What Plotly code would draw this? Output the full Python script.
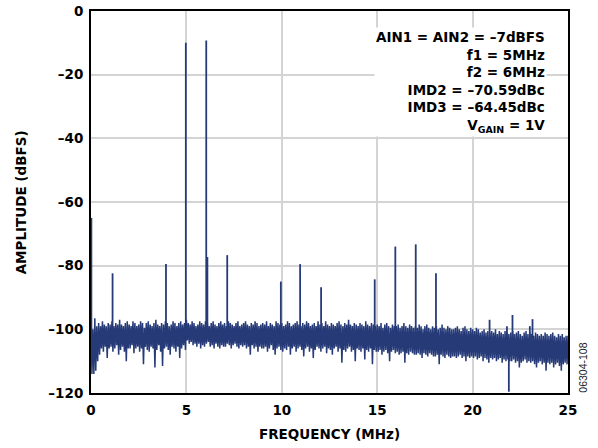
import plotly.graph_objects as go

# Noise-floor envelope sampled every 0.1 MHz from 0 to 25 MHz (dBFS)
freq_start = 0.0
freq_step = 0.1
noise_top = [
    -93, -100, -96.5, -99, -98, -99, -97.5, -98.5, -99, -98,
    -98.5, -97.5, -99, -98, -98.5, -97, -98.5, -99, -98, -97.5,
    -98.5, -99, -97.5, -98, -99, -98.5, -97.5, -98, -99.5, -98,
    -97.5, -98.5, -99, -98, -97, -98.5, -99, -98, -98.5, -97.5,
    -98, -99, -98.5, -97.5, -98, -99, -98, -97.5, -98.5, -98,
    -97, -98, -98.5, -97.5, -98, -99, -98.5, -97.5, -98, -98.5,
    -97.5, -98, -99, -98, -97.5, -98.5, -99, -98, -97.5, -98.5,
    -98, -99, -97.5, -98, -98.5, -99, -98, -97.5, -99, -98.5,
    -98, -97.5, -98.5, -99, -98, -98.5, -97.5, -98, -99, -98.5,
    -98, -98.5, -97.5, -99, -98, -98.5, -99, -97.5, -98, -98.5,
    -98, -99, -98.5, -97.5, -98, -99, -98.5, -98, -97.5, -98.5,
    -99, -98, -98.5, -97.5, -98, -99, -98.5, -98, -99, -97.5,
    -98.5, -98, -99, -97.5, -98.5, -99, -98, -98.5, -99, -98,
    -97.5, -98.5, -99, -98, -98.5, -97, -98.5, -99, -98, -98.5,
    -99, -98, -98.5, -99, -97.5, -98.5, -99, -98, -98.5, -99,
    -98.5, -99, -98, -99.5, -98.5, -98, -99, -99.5, -98.5, -99,
    -99, -98.5, -99.5, -99, -98, -99, -99.5, -98.5, -99, -99.5,
    -99, -99.5, -98.5, -99, -100, -99, -98.5, -99.5, -100, -99,
    -99.5, -99, -100, -99.5, -98.5, -99.5, -100, -99, -99.5, -100,
    -100, -99.5, -99, -100, -100.5, -99.5, -99, -100, -100.5, -99.5,
    -100, -100.5, -99.5, -100, -101, -100.5, -100, -101, -100.5, -101,
    -100.5, -101, -100, -101.5, -100.5, -101, -101.5, -100.5, -101, -101.5,
    -101, -100.5, -101.5, -101, -100.5, -101.5, -102, -101, -100.5, -101.5,
    -101, -101.5, -102, -101, -101.5, -102, -101.5, -102, -101, -101.5,
    -102, -101.5, -101, -102, -102.5, -101.5, -102, -101.5, -102.5, -102,
    -102,
]
noise_bottom = [
    -114, -114, -113, -110, -108, -106, -107, -105.5, -109, -106,
    -105.5, -107, -106, -105, -108, -106.5, -105.5, -107, -110, -106,
    -106, -105, -107.5, -106, -105.5, -107, -106, -111, -105.5, -106.5,
    -107, -105.5, -106, -112, -106.5, -105, -107, -111.5, -106, -105.5,
    -106.5, -108, -105.5, -106, -107, -105.5, -109, -106, -105, -106.5,
    -103.5, -104.5, -104, -105, -104.5, -105.5, -104.5, -106, -105, -105.5,
    -104.5, -104, -105.5, -105, -106, -104.5, -105.5, -106, -105, -105.5,
    -105.5, -104.5, -105, -106, -105, -104.5, -105.5, -106, -105, -105.5,
    -105, -106, -105.5, -108, -105, -106, -105.5, -107, -105.5, -106,
    -106, -105.5, -107, -106, -105, -106.5, -108, -106, -105.5, -106.5,
    -107, -106, -106.5, -105.5, -108, -106, -105.5, -107, -106, -105.5,
    -106.5, -108.5, -106, -105.5, -107, -106, -109, -106.5, -105.5, -106,
    -107, -106, -105.5, -107.5, -106, -106.5, -108, -106, -105.5, -107,
    -106, -110.5, -106.5, -107, -106, -105.5, -107, -106.5, -110, -106,
    -106.5, -107, -106, -109.5, -106.5, -107, -106, -111, -106.5, -107,
    -107, -106.5, -108, -107, -106.5, -107.5, -110, -107, -106.5, -107.5,
    -107, -108, -107.5, -107, -110.5, -107.5, -108, -107, -107.5, -108,
    -108, -107.5, -108, -109, -107.5, -108, -108.5, -107.5, -108, -108.5,
    -108.5, -108, -111, -108, -108.5, -109, -108, -108.5, -109, -108.5,
    -108.5, -109, -108.5, -108, -109, -108.5, -110, -108.5, -109, -108.5,
    -109, -108.5, -109.5, -109, -108.5, -110, -109, -109.5, -110.5, -109,
    -109.5, -109, -110, -109.5, -109, -110.5, -109.5, -110, -109.5, -110,
    -110, -109.5, -110.5, -110, -112, -110.5, -110, -109.5, -110.5, -110,
    -110.5, -110, -111, -112, -110.5, -110, -111, -110.5, -113, -110.5,
    -111, -110.5, -112, -111, -110.5, -111.5, -113, -111, -110.5, -111,
    -110,
]

# Tones, harmonics, IMD products and other spurs (MHz, dBFS)
spur_freq = [0.02, 1.13, 3.93, 4.97, 6.04, 6.10, 7.14, 9.95, 10.96, 12.06,
             14.87, 15.95, 17.02, 18.08, 20.89, 21.80, 22.09, 23.00, 23.14, 21.90]
spur_level = [-65, -82.4, -79.5, -10.0, -9.3, -77.3, -76.7, -85.0, -79.5, -86.8,
              -84.3, -74.0, -73.3, -82.4, -97.0, -99.0, -95.5, -99.0, -96.8, -119.6]
spur_base = -103

x_ticks = [0, 5, 10, 15, 20, 25]
x_tick_labels = ["0", "5", "10", "15", "20", "25"]
y_ticks = [-120, -100, -80, -60, -40, -20, 0]
y_tick_labels = ["–120", "–100", "–80", "–60", "–40", "–20", "0"]

info_lines = [
    "AIN1 = AIN2 = –7dBFS",
    "f1 = 5MHz",
    "f2 = 6MHz",
    "IMD2 = –70.59dBc",
    "IMD3 = –64.45dBc",
    "V<sub>GAIN</sub> = 1V",
]

# Build the dense noise band as a zigzag between the envelopes
nx, ny = [], []
for i, (t, b) in enumerate(zip(noise_top, noise_bottom)):
    f = freq_start + i * freq_step
    nx += [f, f + freq_step / 2]
    ny += [t, b]

sx, sy = [], []
for f, lv in zip(spur_freq, spur_level):
    sx += [f, f, None]
    sy += [spur_base, lv, None]

color = "#263A78"
fig = go.Figure()
fig.add_trace(go.Scatter(x=nx, y=ny, mode="lines",
                         line=dict(color=color, width=1.5), hoverinfo="skip"))
fig.add_trace(go.Scatter(x=sx, y=sy, mode="lines",
                         line=dict(color=color, width=1.8), hoverinfo="skip"))

FAM = "DejaVu Sans, Liberation Sans, Arial, sans-serif"
font_b = dict(family=FAM, size=13.5, color="black", weight="bold")

fig.update_layout(
    width=598, height=448,
    margin=dict(l=91, r=30, t=11, b=55, autoexpand=False),
    paper_bgcolor="white", plot_bgcolor="white",
    showlegend=False,
    xaxis=dict(range=[0, 25], tickvals=x_ticks, ticktext=x_tick_labels,
               showgrid=True, gridcolor="#d4d4d4", gridwidth=1.5,
               showline=True, linecolor="black", linewidth=2, mirror=True,
               ticks="", tickfont=font_b, zeroline=False, automargin=False,
               ticklabelstandoff=4),
    yaxis=dict(range=[-120, 0], tickvals=y_ticks, ticktext=y_tick_labels,
               showgrid=True, gridcolor="#d4d4d4", gridwidth=1.5,
               showline=True, linecolor="black", linewidth=2, mirror=True,
               ticks="", tickfont=font_b, zeroline=False, automargin=False,
               ticklabelstandoff=3),
)

# Axis titles
fig.add_annotation(xref="paper", yref="paper", x=0.5, y=-0.107,
                   xanchor="center", yanchor="middle", text="FREQUENCY (MHz)",
                   showarrow=False, font=font_b)
fig.add_annotation(xref="paper", yref="paper", x=-0.146, y=0.5,
                   xanchor="center", yanchor="middle", textangle=-90,
                   text="AMPLITUDE (dBFS)", showarrow=False, font=font_b)

# Test conditions box
fig.add_annotation(xref="paper", yref="paper", x=0.957, y=0.958,
                   xanchor="right", yanchor="top", align="right",
                   text="<br>".join(info_lines), showarrow=False,
                   bgcolor="white", font=font_b)
# Figure code
fig.add_annotation(xref="paper", yref="paper", x=1.0297, y=0.0667,
                   xanchor="center", yanchor="middle", textangle=-90,
                   text="06304-108", showarrow=False,
                   font=dict(family="Liberation Sans, Arial, sans-serif", size=10.5, color="#222222"))

fig.write_html("out.html", config={"displayModeBar": False},
               post_script="document.body.style.margin='0px';document.body.style.overflow='hidden';")
